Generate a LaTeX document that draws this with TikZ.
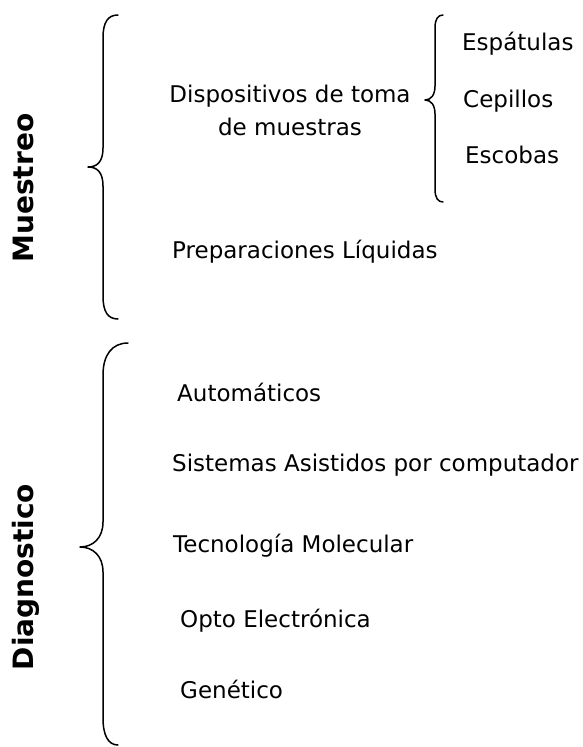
\documentclass[tikz,border=0pt]{standalone}
\usepackage{fontspec}
\setmainfont{DejaVu Sans}
\begin{document}
\begin{tikzpicture}[x=1pt,y=-1pt,
  item/.style={anchor=base west,inner sep=0pt,font=\fontsize{23}{33}\selectfont},
  twoline/.style={anchor=center,inner sep=0pt,align=center,font=\fontsize{23}{33}\selectfont},
  title/.style={anchor=base,inner sep=0pt,rotate=90,font=\fontsize{28}{32}\selectfont\bfseries},
  bracepath/.style={line width=1.5pt,line cap=round,line join=round}]
\useasboundingbox (0,0) rectangle (582,747);

% rotated group titles
\node[title] (muestreo) at (33,188) {Muestreo};
\node[title] (diag) at (33,577) {Diagnostico};

% Muestreo group
\node[twoline] (disp) at (290,110) {Dispositivos de toma\\de muestras};
\node[item] (esp) at (462,50) {Espátulas};
\node[item] (cep) at (463,107) {Cepillos};
\node[item] (esc) at (465,163) {Escobas};
\node[item] (prep) at (172,258) {Preparaciones Líquidas};

% Diagnostico group
\node[item] (auto) at (177,401) {Automáticos};
\node[item] (sis) at (172,471) {Sistemas Asistidos por computador};
\node[item] (tec) at (173,552) {Tecnología Molecular};
\node[item] (opto) at (180,627) {Opto Electrónica};
\node[item] (gen) at (180,698) {Genético};

% brace for Muestreo
\draw[bracepath] (118,15) .. controls (108,15) and (103,22) .. (103,38)
  -- (103,148) .. controls (103,162) and (97,167) .. (88,167)
  .. controls (97,167) and (103,172) .. (103,186)
  -- (103,296) .. controls (103,312) and (108,319) .. (118,319);

% small brace for sampling devices
\draw[bracepath] (443,15) .. controls (438,15) and (435,19) .. (435,28)
  -- (435,86) .. controls (435,95) and (431,100) .. (425,100)
  .. controls (431,100) and (435,105) .. (435,114)
  -- (435,189) .. controls (435,198) and (438,202) .. (443,202);

% brace for Diagnostico
\draw[bracepath] (128,343) .. controls (112,343) and (103,355) .. (103,375)
  -- (103,522) .. controls (103,538) and (93,547) .. (80,547)
  .. controls (93,547) and (103,556) .. (103,572)
  -- (103,718) .. controls (103,735) and (108,745) .. (118,745);
\end{tikzpicture}
\end{document}
